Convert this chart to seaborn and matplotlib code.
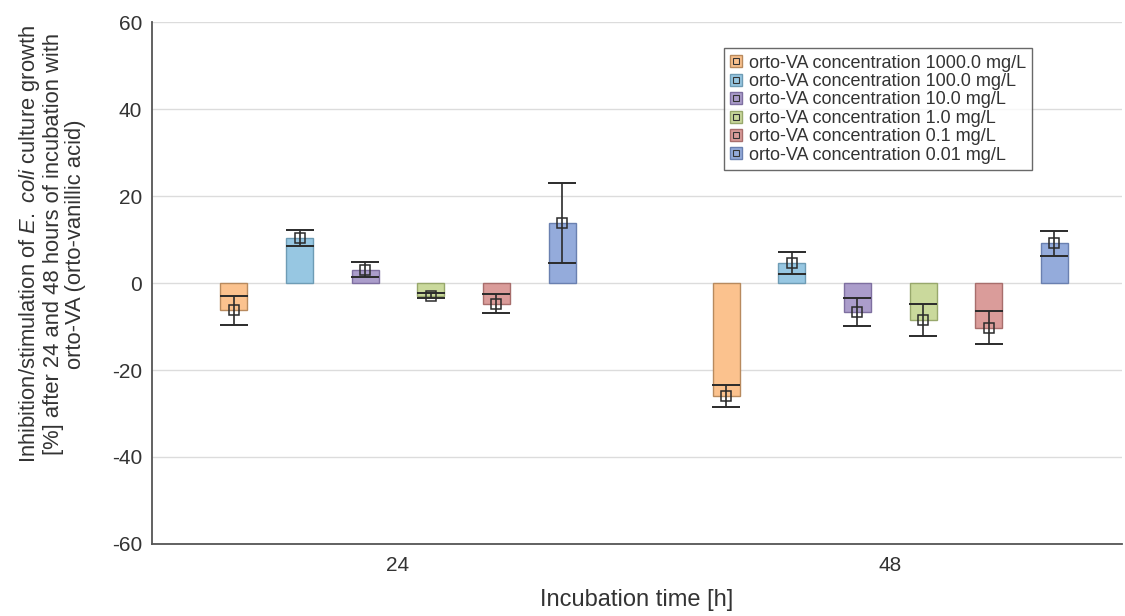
import numpy as np
import pandas as pd
import matplotlib
matplotlib.use('Agg')
import matplotlib.pyplot as plt
import seaborn as sns
from matplotlib.lines import Line2D
from matplotlib.legend_handler import HandlerTuple

# data
times = ['24', '48']
concentrations = [
    'orto-VA concentration 1000.0 mg/L',
    'orto-VA concentration 100.0 mg/L',
    'orto-VA concentration 10.0 mg/L',
    'orto-VA concentration 1.0 mg/L',
    'orto-VA concentration 0.1 mg/L',
    'orto-VA concentration 0.01 mg/L',
]
mean_24 = [-6.3, 10.4, 3.1, -2.9, -4.8, 13.7]
sd_24 = [3.3, 1.8, 1.7, 0.5, 2.2, 9.2]
mean_48 = [-26.0, 4.6, -6.6, -8.5, -10.3, 9.1]
sd_48 = [2.6, 2.5, 3.2, 3.7, 3.8, 2.9]

face_colors = ['#fbc28e', '#97c7e2', '#ab9dcb', '#cad99c', '#da9c9a', '#94abdb']
edge_colors = ['#b88a5e', '#6e9cb5', '#7e6fa0', '#98a86c', '#a86e6c', '#6a80b0']

df = pd.DataFrame({
    'time': [t for t in times for _ in concentrations],
    'conc': concentrations * len(times),
    'mean': mean_24 + mean_48,
    'sd': sd_24 + sd_48,
})

sns.set_style('white')
plt.rcParams['font.family'] = ['Liberation Sans', 'DejaVu Sans']
plt.rcParams['mathtext.fontset'] = 'custom'
plt.rcParams['mathtext.it'] = 'Liberation Sans:italic'
plt.rcParams['mathtext.rm'] = 'Liberation Sans'
plt.rcParams['axes.unicode_minus'] = False

fig = plt.figure(figsize=(11.25, 6.16), dpi=100)
ax = fig.add_axes([0.135, 0.117, 0.862, 0.847])

sns.barplot(data=df, x='time', y='mean', hue='conc', order=times,
            hue_order=concentrations, palette=face_colors, saturation=1,
            errorbar=None, width=0.8, gap=0.59, ax=ax, legend=False, zorder=3)

# edges, error bars and mean markers on top of each bar
bar_containers = list(ax.containers)
for i, cont in enumerate(bar_containers):
    sub = df[df['conc'] == concentrations[i]].set_index('time').loc[times]
    xs = []
    for bar in cont:
        bar.set_edgecolor(edge_colors[i])
        bar.set_linewidth(1.0)
        xs.append(bar.get_x() + bar.get_width() / 2)
    ax.errorbar(xs, sub['mean'], yerr=sub['sd'], fmt='none', ecolor='#2b2b2b',
                elinewidth=1.2, capsize=9.8, capthick=1.4, zorder=4)
    ax.plot(xs, sub['mean'], ls='none', marker='s', ms=7, mfc='none',
            mec='#2b2b2b', mew=1.1, zorder=5)

ax.set_ylim(-60, 60)
ax.set_yticks(np.arange(-60, 61, 20))
ax.set_xlim(-0.5, 1.47)
ax.grid(axis='y', color='#dcdcdc', lw=1.0, zorder=0)
ax.set_axisbelow(True)

for s in ['top', 'right']:
    ax.spines[s].set_visible(False)
for s in ['left', 'bottom']:
    ax.spines[s].set_color('#555555')
    ax.spines[s].set_linewidth(1.3)

ax.tick_params(axis='y', direction='out', length=4, width=1, color='#555555',
               labelsize=15, labelcolor='#333333', pad=3)
ax.tick_params(axis='x', direction='in', length=3, width=1, color='#555555',
               labelsize=15, labelcolor='#333333', pad=9)

ax.set_xlabel('Incubation time [h]', fontsize=17, color='#333333', labelpad=10)
ax.set_ylabel('Inhibition/stimulation of $\\mathit{E.}$ $\\mathit{coli}$ culture growth\n'
              '[%] after 24 and 48 hours of incubation with\n'
              'orto-VA (orto-vanillic acid)',
              fontsize=15.8, color='#333333', linespacing=1.05)
ax.yaxis.set_label_coords(-0.068, 0.575)

handles = []
for fc, ec in zip(face_colors, edge_colors):
    big = Line2D([], [], ls='none', marker='s', ms=9, mfc=fc, mec=ec, mew=1)
    small = Line2D([], [], ls='none', marker='s', ms=4.5, mfc='none', mec='#333333', mew=0.8)
    handles.append((big, small))
leg = ax.legend(handles, concentrations, handler_map={tuple: HandlerTuple(ndivide=1)},
                loc='upper right', bbox_to_anchor=(0.908, 0.95), frameon=True,
                fancybox=False, edgecolor='#444444', fontsize=13,
                handlelength=0.7, handletextpad=0.35, borderpad=0.35,
                labelspacing=0.08, borderaxespad=0)
leg.get_frame().set_linewidth(1.0)
for t in leg.get_texts():
    t.set_color('#333333')

fig.savefig('out.png', dpi=100)
